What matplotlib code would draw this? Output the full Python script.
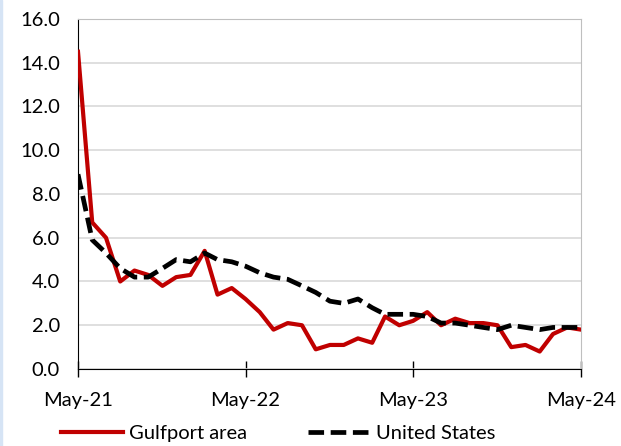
import matplotlib
matplotlib.use("Agg")
import matplotlib.pyplot as plt
import matplotlib.dates as mdates
import pandas as pd

# monthly values, May-21 .. May-24
months = pd.date_range("2021-05-01", periods=37, freq="MS")
gulfport = [14.5, 6.7, 6.0, 4.0, 4.5, 4.3, 3.8, 4.2, 4.3, 5.4,
            3.4, 3.7, 3.2, 2.6, 1.8, 2.1, 2.0, 0.9, 1.1, 1.1,
            1.4, 1.2, 2.4, 2.0, 2.2, 2.6, 2.0, 2.3, 2.1, 2.1,
            2.0, 1.0, 1.1, 0.8, 1.6, 1.9, 1.8]
us = [8.9, 5.9, 5.3, 4.6, 4.2, 4.2, 4.6, 5.0, 4.9, 5.3,
      5.0, 4.9, 4.7, 4.4, 4.2, 4.1, 3.8, 3.5, 3.1, 3.0,
      3.2, 2.8, 2.5, 2.5, 2.5, 2.4, 2.1, 2.1, 2.0, 1.9,
      1.8, 2.0, 1.9, 1.8, 1.9, 1.9, 1.9]
tick_dates = pd.to_datetime(["2021-05-01", "2022-05-01", "2023-05-01", "2024-05-01"])

plt.rcParams["font.family"] = ["Lato", "DejaVu Sans"]

fig = plt.figure(figsize=(6.21, 4.46), dpi=100)
# thin blue strip on the left edge, as in the source image
fig.patches.append(plt.Rectangle((0, 0), 0.004, 1, transform=fig.transFigure,
                                 color="#D6E4F5", zorder=0))
ax = fig.add_axes([0.1256, 0.1726, 0.81, 0.785])

ax.plot(months, gulfport, color="#C00000", lw=3, label="Gulfport area", zorder=3)
ax.plot(months, us, color="black", lw=3.4, linestyle=(0, (3.3, 1.4)),
        label="United States", zorder=4)

ax.set_ylim(0, 16)
ax.set_yticks(range(0, 17, 2))
ax.yaxis.set_major_formatter(matplotlib.ticker.FormatStrFormatter("%.1f"))
ax.set_xlim(months[0], months[-1])
ax.set_xticks(tick_dates)
ax.xaxis.set_major_formatter(mdates.DateFormatter("%b-%y"))

ax.grid(axis="y", color="#D9D9D9", lw=1.2)
ax.set_axisbelow(True)
for s in ["top", "right"]:
    ax.spines[s].set_color("#BFBFBF")
ax.spines["left"].set_color("black")
ax.spines["bottom"].set_color("black")
ax.tick_params(axis="y", length=0, pad=13, labelsize=14.5)
ax.tick_params(axis="x", direction="inout", length=11, width=1, pad=11, labelsize=14.5)

fig.legend(loc="lower center", bbox_to_anchor=(0.448, -0.032), ncol=2, frameon=False,
           fontsize=14.5, handlelength=3.1, columnspacing=3.0, handletextpad=0.3)

fig.savefig("out.png", dpi=100)
